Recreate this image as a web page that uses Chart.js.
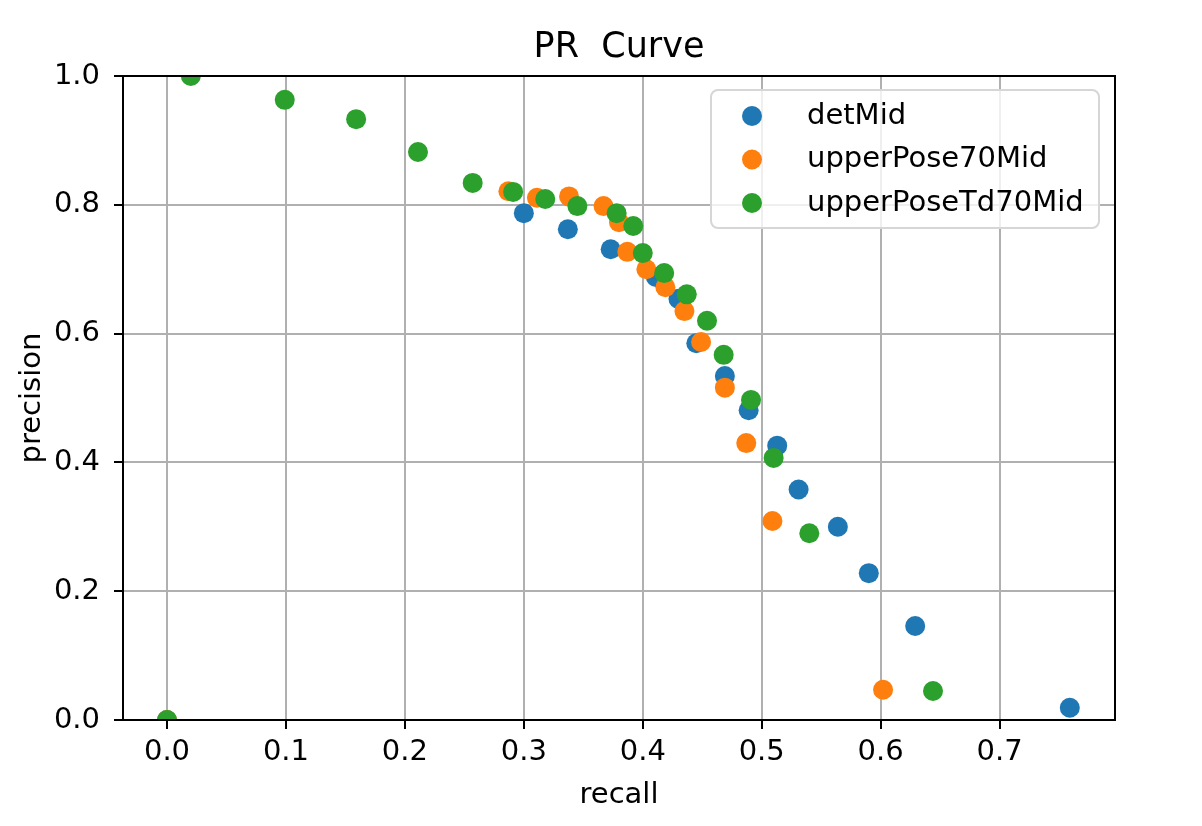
<!DOCTYPE html>
<html>
<head>
<meta charset="utf-8">
<style>
  html, body { margin: 0; padding: 0; background: #fff; }
  #wrap { width: 1202px; height: 826px; }
</style>
<script src="https://cdn.jsdelivr.net/npm/chart.js@4.4.0/dist/chart.umd.min.js"></script>
</head>
<body>
<div id="wrap"><canvas id="prChart" width="1202" height="826"></canvas></div>
<script>
// values
const chartTitle = 'PR  Curve';
const seriesNames = ['detMid', 'upperPose70Mid', 'upperPoseTd70Mid'];
const seriesColors = ['#1f77b4', '#ff7f0e', '#2ca02c'];

const detMidRecall    = [0.0, 0.300, 0.337, 0.373, 0.411, 0.430, 0.445, 0.469, 0.489, 0.513, 0.531, 0.564, 0.590, 0.629, 0.759];
const detMidPrecision = [0.0, 0.787, 0.762, 0.731, 0.688, 0.654, 0.585, 0.534, 0.481, 0.426, 0.358, 0.300, 0.228, 0.146, 0.019];

const pose70Recall    = [0.0, 0.287, 0.311, 0.338, 0.367, 0.380, 0.387, 0.403, 0.419, 0.435, 0.449, 0.469, 0.487, 0.509, 0.602];
const pose70Precision = [0.0, 0.821, 0.811, 0.813, 0.798, 0.773, 0.727, 0.700, 0.672, 0.635, 0.587, 0.516, 0.430, 0.309, 0.047];

const poseTdRecall    = [0.0, 0.020, 0.099, 0.159, 0.211, 0.257, 0.291, 0.318, 0.345, 0.378, 0.392, 0.400, 0.418, 0.437, 0.454, 0.468, 0.491, 0.510, 0.540, 0.644];
const poseTdPrecision = [0.0, 1.000, 0.963, 0.933, 0.882, 0.834, 0.820, 0.809, 0.798, 0.787, 0.767, 0.725, 0.694, 0.661, 0.620, 0.567, 0.497, 0.407, 0.290, 0.045];

const xTicks = [0.0, 0.1, 0.2, 0.3, 0.4, 0.5, 0.6, 0.7];
const yTicks = [0.0, 0.2, 0.4, 0.6, 0.8, 1.0];

const FONT = 'DejaVu Sans';

function toPoints(xs, ys) {
  return xs.map((x, i) => ({ x: x, y: ys[i] }));
}

const allSeries = [
  toPoints(detMidRecall, detMidPrecision),
  toPoints(pose70Recall, pose70Precision),
  toPoints(poseTdRecall, poseTdPrecision)
];

// closes the box on top/right, centres the title over the axes
// and draws a matplotlib-like legend inside the axes
const framePlugin = {
  id: 'frame',
  afterDraw(chart) {
    const { ctx, chartArea: a } = chart;
    ctx.save();
    ctx.strokeStyle = '#000';
    ctx.lineWidth = 2;
    ctx.strokeRect(a.left, a.top, a.right - a.left, a.bottom - a.top);

    ctx.fillStyle = '#000';
    ctx.font = '35px "' + FONT + '"';
    ctx.textAlign = 'center';
    ctx.textBaseline = 'alphabetic';
    ctx.fillText(chartTitle, (a.left + a.right) / 2, 57);

    // legend box
    const bx = 711, by = 90, bw = 388, bh = 138;
    ctx.beginPath();
    ctx.roundRect(bx, by, bw, bh, 7);
    ctx.fillStyle = 'rgba(255,255,255,0.8)';
    ctx.fill();
    ctx.strokeStyle = '#d6d6d6';
    ctx.lineWidth = 2;
    ctx.stroke();

    ctx.font = '29px "' + FONT + '"';
    ctx.textBaseline = 'middle';
    ctx.textAlign = 'left';
    chart.data.datasets.forEach((ds, i) => {
      const y = 116 + i * 43.5;
      ctx.beginPath();
      ctx.arc(752, y, 10, 0, Math.PI * 2);
      ctx.fillStyle = ds.backgroundColor;
      ctx.fill();
      ctx.fillStyle = '#000';
      ctx.fillText(ds.label, 807, y);
    });
    ctx.restore();
  }
};

new Chart(document.getElementById('prChart'), {
  type: 'scatter',
  data: {
    datasets: allSeries.map((pts, i) => ({
      label: seriesNames[i],
      data: pts,
      backgroundColor: seriesColors[i],
      borderWidth: 0,
      pointRadius: 10,
      pointHoverRadius: 10,
      order: seriesNames.length - 1 - i,
      clip: 0
    }))
  },
  options: {
    responsive: false,
    animation: false,
    devicePixelRatio: 1,
    layout: { padding: { left: 0, right: 87, top: 76, bottom: 0 } },
    plugins: {
      legend: { display: false },
      tooltip: { enabled: false },
      title: { display: false }
    },
    scales: {
      x: {
        type: 'linear',
        min: -0.037,
        max: 0.797,
        afterBuildTicks: s => { s.ticks = xTicks.map(v => ({ value: v })); },
        afterFit: s => { s.height = 106; },
        ticks: {
          color: '#000',
          font: { family: FONT, size: 29 },
          padding: 6,
          maxRotation: 0,
          callback: v => v.toFixed(1)
        },
        grid: { color: '#b0b0b0', lineWidth: 2, tickColor: '#000', tickLength: 9 },
        border: { color: '#000', width: 2 },
        title: {
          display: true,
          text: 'recall',
          color: '#000',
          font: { family: FONT, size: 29 },
          padding: { top: 0, bottom: 13 }
        }
      },
      y: {
        type: 'linear',
        min: 0,
        max: 1,
        afterBuildTicks: s => { s.ticks = yTicks.map(v => ({ value: v })); },
        afterFit: s => { s.width = 123; },
        ticks: {
          color: '#000',
          font: { family: FONT, size: 29 },
          padding: 14,
          callback: v => v.toFixed(1)
        },
        grid: { color: '#b0b0b0', lineWidth: 2, tickColor: '#000', tickLength: 9 },
        border: { color: '#000', width: 2 },
        title: {
          display: true,
          text: 'precision',
          color: '#000',
          font: { family: FONT, size: 29 },
          padding: { top: 15, bottom: 0 }
        }
      }
    }
  },
  plugins: [framePlugin]
});
</script>
</body>
</html>
